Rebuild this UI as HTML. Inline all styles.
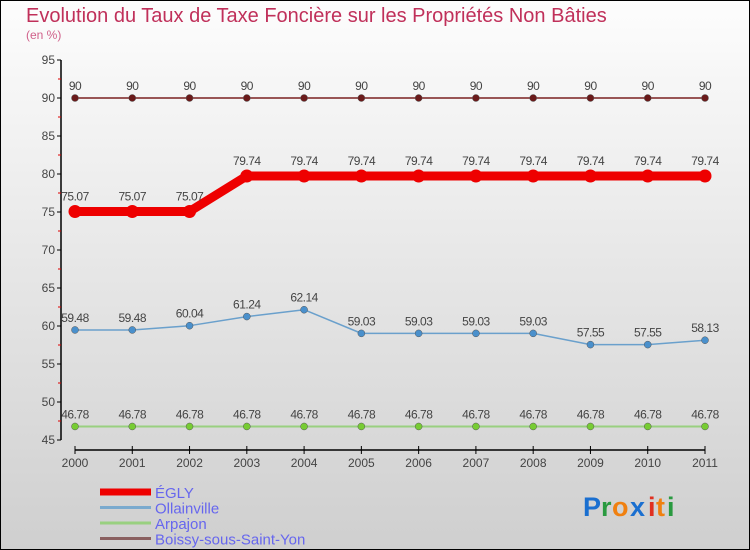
<!DOCTYPE html>
<html><head><meta charset="utf-8"><style>
html,body{margin:0;padding:0}
body{width:750px;height:550px;overflow:hidden;font-family:"Liberation Sans",sans-serif}
svg{display:block}
</style></head><body>
<svg id="chart" width="750" height="550" xmlns="http://www.w3.org/2000/svg">
<defs><linearGradient id="bg" x1="0" y1="0" x2="0" y2="1"><stop offset="0" stop-color="#fdfdfd"/><stop offset="1" stop-color="#cfcfcf"/></linearGradient></defs>
<rect x="0.5" y="0.5" width="749" height="549" fill="url(#bg)" stroke="#000"/>
<text x="26" y="22" font-size="20" fill="#c0305a">Evolution du Taux de Taxe Foncière sur les Propriétés Non Bâties</text>
<text x="26" y="39" font-size="12" fill="#d0608a">(en %)</text>
<g id="axes"></g>
<g id="series"></g>
<g id="legend"></g>
<g font-size="27" font-weight="bold" font-family="Liberation Sans, sans-serif">
<text x="583" y="516" fill="#1a6fd0">P</text><text x="601" y="516" fill="#2a9a40">r</text><text x="612" y="516" fill="#f08010">o</text><text x="630" y="516" fill="#1a6fd0">x</text><text x="648" y="516" fill="#e03020">i</text><text x="656" y="516" fill="#f08010">t</text><text x="667" y="516" fill="#2a9a40">i</text>
</g>
</svg>
<script>
const years=["2000","2001","2002","2003","2004","2005","2006","2007","2008","2009","2010","2011"];
const yTicks=[45,50,55,60,65,70,75,80,85,90,95];
const egly=[75.07,75.07,75.07,79.74,79.74,79.74,79.74,79.74,79.74,79.74,79.74,79.74];
const ollainville=[59.48,59.48,60.04,61.24,62.14,59.03,59.03,59.03,59.03,57.55,57.55,58.13];
const arpajon=[46.78,46.78,46.78,46.78,46.78,46.78,46.78,46.78,46.78,46.78,46.78,46.78];
const boissy=[90,90,90,90,90,90,90,90,90,90,90,90];
const seriesNames=["ÉGLY","Ollainville","Arpajon","Boissy-sous-Saint-Yon"];

const NS="http://www.w3.org/2000/svg";
const X=i=>75+i*(630/11);
const Y=v=>440-(v-45)*7.6;
function mk(tag,attrs,parent){const e=document.createElementNS(NS,tag);for(const k in attrs)e.setAttribute(k,attrs[k]);parent.appendChild(e);return e;}
const axes=document.getElementById('axes');
let e=mk('line',{x1:61,y1:60,x2:61,y2:440,stroke:'#000','stroke-width':1.5},axes);


e=mk('line',{x1:75,y1:450,x2:705,y2:450,stroke:'#000','stroke-width':1.5},axes);


yTicks.forEach((t,i)=>{
  const y=Y(t);
  mk('line',{x1:57,y1:y,x2:61,y2:y,stroke:'#000'},axes);
  const tx=mk('text',{x:55,y:y+4,'text-anchor':'end','font-size':12,fill:'#444'},axes);
  tx.textContent=t;
  
  
  if(i<yTicks.length-1){const m=Y(t+2.5);mk('line',{x1:58,y1:m,x2:61,y2:m,stroke:'#d00'},axes);}
});
years.forEach((yr,i)=>{
  const x=X(i);
  mk('line',{x1:x,y1:446,x2:x,y2:454,stroke:'#000'},axes);
  const tx=mk('text',{x:x,y:467,'text-anchor':'middle','font-size':12,fill:'#444'},axes);
  tx.textContent=yr;
  
  
});
const sg=document.getElementById('series');
function draw(data,color,lw,r,dot,name){
  const g=mk('g',{},sg);
  
  
  const pl=mk('polyline',{points:data.map((v,i)=>X(i)+','+Y(v)).join(' '),fill:'none',stroke:color,'stroke-width':lw,'stroke-linejoin':'round'},g);
  
  
  data.forEach((v,i)=>{
    const c=mk('circle',{cx:X(i),cy:Y(v),r:r,fill:dot,stroke:color==='#ee0000'?'none':'#555','stroke-width':0.5},g);
    
    
    const t=mk('text',{x:X(i),y:Y(v)-(lw>5?11:8),'text-anchor':'middle','font-size':12,fill:'#444','letter-spacing':'-0.5'},g);
    t.textContent=String(v);
    
    
  });
}
draw(boissy,'#7a2020',1.5,3.5,'#6a1a1a','boissy');
draw(arpajon,'#99d080',2,3.5,'#77cc33','arpajon');
draw(ollainville,'#6aa0cc',1.5,3.5,'#4a90cc','ollainville');
draw(egly,'#ee0000',9,6.5,'#ee0000','egly');
const lg=document.getElementById('legend');
const lc=[['#ee0000',7],['#7aaace',3],['#99d080',3],['#8a6060',3]];
seriesNames.forEach((n,i)=>{
  const y=492+i*15.5;
  const l=mk('line',{x1:100,y1:y,x2:151,y2:y,stroke:lc[i][0],'stroke-width':lc[i][1]},lg);
  
  
  const t=mk('text',{x:155,y:y+6,'font-size':15,fill:'#6666ee'},lg);
  t.textContent=n;
  
  
});
</script>
</body></html>
